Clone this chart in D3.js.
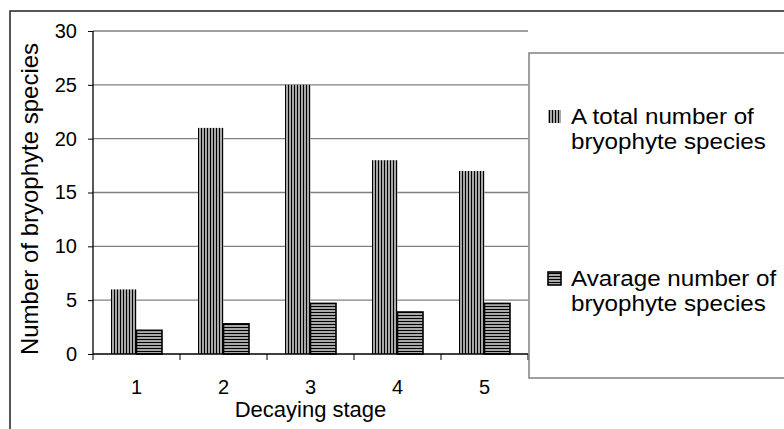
<!DOCTYPE html>
<html><head><meta charset="utf-8">
<script src="https://cdn.jsdelivr.net/npm/d3@7"></script>
<style>html,body{margin:0;padding:0;background:#fff;}svg{display:block;font-family:"Liberation Sans",Arial,sans-serif;}</style>
</head><body>
<svg id="c" width="784" height="429"></svg>
<script>
const categories = ["1","2","3","4","5"];
const totalSpecies = [6, 21, 25, 18, 17];
const avgSpecies = [2.2, 2.8, 4.7, 3.9, 4.7];
const yTicks = [0, 5, 10, 15, 20, 25, 30];
const seriesNames = [["A total number of","bryophyte species"],["Avarage number of","bryophyte species"]];
const xTitle = "Decaying stage";
const yTitle = "Number of bryophyte species";

(function(){
const svg = d3.select("#c");
const defs = svg.append("defs");
const pv = defs.append("pattern").attr("id","pv").attr("patternUnits","userSpaceOnUse").attr("width",3).attr("height",3);
pv.append("rect").attr("width",3).attr("height",3).attr("fill","#a8a8a8");
pv.append("rect").attr("width",1).attr("height",3).attr("fill","#000");
const ph = defs.append("pattern").attr("id","ph").attr("patternUnits","userSpaceOnUse").attr("width",3).attr("height",3);
ph.append("rect").attr("width",3).attr("height",3).attr("fill","#a8a8a8");
ph.append("rect").attr("width",3).attr("height",1).attr("fill","#000");

// outer frame
svg.append("rect").attr("x",10).attr("y",11).attr("width",800).attr("height",440)
  .attr("fill","none").attr("stroke","#222").attr("stroke-width",1.5);

const pL = 93, pR = 528, pT = 31, pB = 354;
const x = d3.scaleBand().domain(categories).range([pL,pR]).paddingInner(0).paddingOuter(0);
const y = d3.scaleLinear().domain([0,30]).range([pB,pT]);

// gridlines
svg.append("g").selectAll("line").data(yTicks.filter(d=>d>0)).join("line")
  .attr("x1",pL).attr("x2",pR).attr("y1",d=>y(d)).attr("y2",d=>y(d))
  .attr("stroke","#808080").attr("stroke-width",1.3);

// bars
const bw = x.bandwidth();
const barW = 25.5, outer = (bw - 2*barW)/2;
svg.append("g").selectAll("rect").data(totalSpecies).join("rect")
  .attr("x",(d,i)=>x(categories[i])+outer).attr("width",barW)
  .attr("y",d=>y(d)).attr("height",d=>pB-y(d)).attr("fill","url(#pv)");
svg.append("g").selectAll("rect").data(avgSpecies).join("rect")
  .attr("x",(d,i)=>x(categories[i])+outer+barW).attr("width",barW)
  .attr("y",d=>y(d)).attr("height",d=>pB-y(d)).attr("fill","url(#ph)")
  .attr("stroke","#000").attr("stroke-width",1.6);

// y axis
const ya = d3.axisLeft(y).tickValues(yTicks).tickSize(5).tickPadding(11);
const gy = svg.append("g").attr("transform",`translate(${pL},0)`).call(ya);
gy.attr("font-size",null).attr("font-family",null);
gy.select(".domain").attr("stroke","#000").attr("stroke-width",1.3).attr("d",`M0,${pT}V${pB}`);
gy.selectAll(".tick line").attr("stroke","#000");
gy.selectAll("text").style("font-size","20px").attr("fill","#000");

// x axis
const gx = svg.append("g").attr("transform",`translate(0,${pB})`);
gx.append("line").attr("x1",pL).attr("x2",pR).attr("stroke","#000").attr("stroke-width",1.3);
const bounds = categories.map(c=>x(c)).concat([pR]);
gx.selectAll("line.t").data(bounds).join("line").attr("class","t")
  .attr("x1",d=>d).attr("x2",d=>d).attr("y1",0).attr("y2",6).attr("stroke","#000");
gx.selectAll("text").data(categories).join("text")
  .attr("x",d=>x(d)+bw/2).attr("y",40).attr("text-anchor","middle")
  .style("font-size","20px").text(d=>d);

svg.append("text").attr("x",(pL+pR)/2).attr("y",417).attr("text-anchor","middle")
  .style("font-size","22px").text(xTitle);
svg.append("text").attr("transform",`translate(38,199) rotate(-90)`)
  .attr("text-anchor","middle").style("font-size","24px").text(yTitle);

// legend
svg.append("rect").attr("x",529).attr("y",53).attr("width",300).attr("height",325)
  .attr("fill","#fff").attr("stroke","#808080").attr("stroke-width",1.5);
const legY = [129, 291];
const fills = ["url(#pv)","url(#ph)"];
seriesNames.forEach((lines,i)=>{
  svg.append("rect").attr("x",548).attr("y",legY[i]-19).attr("width",13).attr("height",13)
    .attr("fill",fills[i]).attr("stroke",i===1?"#000":"none").attr("stroke-width",1.6);
  const t = svg.append("text").attr("transform",`translate(571,${legY[i]-5}) scale(1.1,1)`)
    .style("font-size","22px");
  lines.forEach((l,j)=>t.append("tspan").attr("x",0).attr("dy",j===0?0:25).text(l));
});
})();
</script>
</body></html>
